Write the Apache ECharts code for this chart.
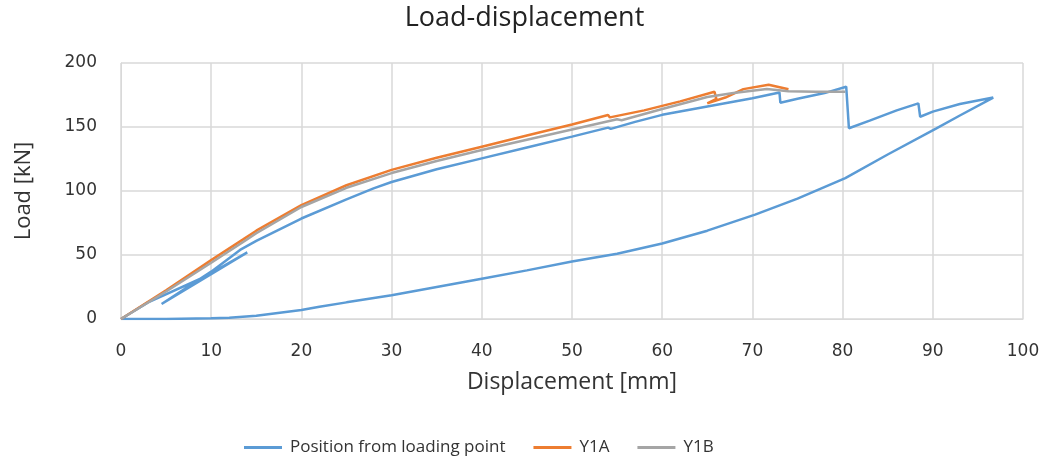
<!DOCTYPE html>
<html><head><meta charset="utf-8">
<script src="https://cdn.jsdelivr.net/npm/echarts@6/dist/echarts.min.js"></script>
<style>html,body{margin:0;padding:0;background:#fff}#c{width:1049px;height:463px}</style>
</head><body><div id="c"></div>
<script>
const xTicks = [0,10,20,30,40,50,60,70,80,90,100];
const yTicks = [0,50,100,150,200];
const seriesNames = ['Position from loading point','Y1A','Y1B'];
const positionFromLoadingPoint = [
 [0,0],[3,13],[9.3,33],[14,52],[4.5,11.7],[10,37],[13.2,54],[15,61],[20,78.5],[25,93.5],[28,102],[30,107],[35,117],[40,125.5],[45,134],[50,142.5],[54,149.5],[54.3,148.5],[57,154],[60,159.5],[60.2,158.5],[65,166],[70,172.5],[73,177],[73.1,169],[75,172],[78,176.5],[80.4,181.5],[80.7,149],[83,155],[86,163],[88.4,168.5],[88.6,158],[90,162],[93,168],[96.7,173],[93,159],[90.4,149],[85,128.5],[80.3,110],[75,94],[70.3,81.5],[65,69],[60,59],[55,51],[50,45],[45,38],[40,31.5],[35,25],[30,18.5],[25,13],[22,9.6],[20,7],[15,2.6],[12,1],[10,0.5],[5,0],[0,0]
];
const y1a = [
 [0,0],[5,22.5],[10,46],[13.5,62],[15,69],[20,89],[25,104.5],[30,116.5],[35,126],[40,134.6],[45,143.3],[50,152],[54,159.4],[54.2,157.5],[58,163],[62,170],[65.8,177.5],[66,172],[65,168.5],[67,173],[69,179.6],[71.8,183],[74,179.5]
];
const y1b = [
 [0,0],[5,21.5],[10,44],[13.5,60],[15,67],[20,87.5],[25,102.5],[30,114],[35,123.5],[40,132],[45,140],[50,148],[55,156],[55.5,155.3],[60,164],[65,173.5],[67.9,176.5],[71.6,179.7],[74,178],[77,177.6],[80.3,177.6]
];
const colors = ['#5B9BD5','#ED7D31','#A5A5A5'];
const font = '"Open Sans", "DejaVu Sans", sans-serif';
const numFont = '"DejaVu Sans", sans-serif';
const chart = echarts.init(document.getElementById('c'));
const dataSets = [positionFromLoadingPoint, y1a, y1b];
chart.setOption({
  animation:false,
  color: colors,
  title:{text:'Load-displacement',left:'center',top:0,textStyle:{fontFamily:font,fontSize:27,fontWeight:'normal',color:'#222'}},
  legend:{data:seriesNames,top:434,left:239,icon:'rect',itemWidth:38,itemHeight:3,itemGap:28,
    textStyle:{fontFamily:font,fontSize:17,color:'#333',padding:[0,0,0,3]}},
  grid:{left:121,right:26,top:63,bottom:144},
  xAxis:{type:'value',min:0,max:100,interval:10,
    name:'Displacement [mm]',nameLocation:'middle',nameGap:52,
    nameTextStyle:{fontFamily:font,fontSize:23,color:'#333'},
    axisLine:{show:true,lineStyle:{color:'#d9d9d9'}},axisTick:{show:false},
    axisLabel:{margin:24,fontFamily:numFont,fontSize:17,color:'#333'},
    splitLine:{show:true,lineStyle:{color:'#d9d9d9',width:1.5}}},
  yAxis:{type:'value',min:0,max:200,interval:50,
    name:'Load [kN]',nameLocation:'middle',nameGap:86,nameRotate:90,
    nameTextStyle:{fontFamily:font,fontSize:22,color:'#333'},
    axisLine:{show:true,lineStyle:{color:'#d9d9d9'}},axisTick:{show:false},
    axisLabel:{margin:24,fontFamily:numFont,fontSize:17,color:'#333'},
    splitLine:{show:true,lineStyle:{color:'#d9d9d9',width:1.5}}},
  series: seriesNames.map((n,i)=>({name:n,type:'line',data:dataSets[i],showSymbol:false,symbol:'none',
    lineStyle:{width:2.5,color:colors[i]},itemStyle:{color:colors[i]}}))
});
</script></body></html>
